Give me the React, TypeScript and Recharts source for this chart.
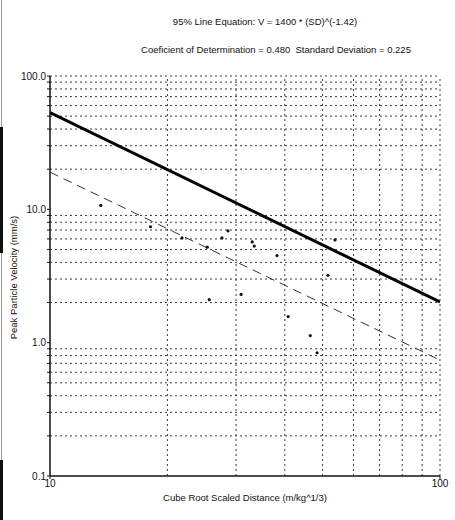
import {
  ScatterChart,
  Scatter,
  XAxis,
  YAxis,
  ReferenceLine,
} from "recharts";

// scaled distance (m/kg^1/3) and peak particle velocity (mm/s) of each blast record
const distances = [13.5, 18.1, 21.8, 25.3, 27.6, 28.6, 33.0, 33.4, 34.6, 38.2, 30.9, 25.6, 40.8, 51.6, 46.5, 48.4, 53.8];
const velocities = [10.7, 7.4, 6.1, 5.2, 6.1, 6.9, 5.7, 5.3, 9.1, 4.5, 2.3, 2.1, 1.57, 3.2, 1.13, 0.84, 5.9];

// 95% line and mean line, end points at SD = 10 and SD = 100
const lineSD = [10, 100];
const line95 = [53.2, 2.02];
const lineMean = [19.0, 0.74];

const xTicks = [10, 100];
const yTicks = [0.1, 1, 10, 100];
const xGrid = [20, 30, 40, 50, 60, 70, 80, 90, 100];
const yGrid = [0.2, 0.3, 0.4, 0.5, 0.6, 0.7, 0.8, 0.9, 2, 3, 4, 5, 6, 7, 8, 9, 20, 30, 40, 50, 60, 70, 80, 90, 100];
const yMinor = [0.2, 0.3, 0.4, 0.5, 0.6, 0.7, 0.8, 0.9, 2, 3, 4, 5, 6, 7, 8, 9, 20, 30, 40, 50, 60, 70, 80, 90];

const points = distances.map((x, i) => ({ x, y: velocities[i] }));
const fitLine = lineSD.map((x, i) => ({ x, y: line95[i] }));
const meanLine = lineSD.map((x, i) => ({ x, y: lineMean[i] }));

const font = '"Liberation Sans", Arial, sans-serif';
const gridStroke = "#3a3a3a";

function Dot(props: { cx?: number; cy?: number }) {
  if (props.cx == null || props.cy == null) return null;
  return <circle cx={props.cx} cy={props.cy} r={1.6} fill="#111" />;
}

function NoShape() {
  return <g />;
}

export default function App() {
  return (
    <div
      style={{
        position: "absolute",
        left: 0,
        top: 0,
        width: 455,
        height: 520,
        background: "#fff",
        fontFamily: font,
        color: "#111",
      }}
    >
      {/* scan edge */}
      <div style={{ position: "absolute", left: 1, top: 0, width: 1, height: 520, background: "#999" }} />
      <div style={{ position: "absolute", left: 0, top: 127, width: 3, height: 126, background: "#111" }} />
      <div style={{ position: "absolute", left: 0, top: 460, width: 3, height: 60, background: "#111" }} />

      <div
        style={{
          position: "absolute",
          left: 0,
          width: 530,
          top: 16,
          textAlign: "center",
          fontSize: 9.5,
        }}
      >
        95% Line Equation: V = 1400 * (SD)^(-1.42)
      </div>
      <div
        style={{
          position: "absolute",
          left: 0,
          width: 552,
          top: 44,
          textAlign: "center",
          fontSize: 9.5,
        }}
      >
        Coeficient of Determination = 0.480&nbsp;&nbsp;Standard Deviation = 0.225
      </div>
      <div
        style={{
          position: "absolute",
          left: 13 - 100,
          top: 278 - 6,
          width: 200,
          textAlign: "center",
          fontSize: 9.5,
          transform: "rotate(-90deg)",
        }}
      >
        Peak Particle Velocity (mm/s)
      </div>
      <div
        style={{
          position: "absolute",
          left: 0,
          width: 490,
          top: 492,
          textAlign: "center",
          fontSize: 9.5,
        }}
      >
        Cube Root Scaled Distance (m/kg^1/3)
      </div>

      <div style={{ position: "absolute", left: 0, top: 0 }}>
        <ScatterChart
          width={455}
          height={520}
          margin={{ top: 76, right: 15, bottom: 24, left: 8 }}
        >
          {xGrid.map((v) => (
            <ReferenceLine
              key={`vx${v}`}
              x={v}
              stroke={gridStroke}
              strokeDasharray="2 3"
              strokeWidth={1}
            />
          ))}
          {yGrid.map((v) => (
            <ReferenceLine
              key={`hy${v}`}
              y={v}
              stroke={gridStroke}
              strokeDasharray="2 3"
              strokeWidth={1}
            />
          ))}
          <XAxis
            type="number"
            dataKey="x"
            scale="log"
            domain={[10, 100]}
            ticks={xTicks}
            interval={0}
            allowDataOverflow
            height={20}
            tickSize={3}
            tickMargin={1}
            tick={{ fontSize: 10, fill: "#111", fontFamily: font }}
            axisLine={{ stroke: "#111", strokeWidth: 1.5 }}
            tickLine={{ stroke: "#111" }}
          />
          <YAxis
            type="number"
            dataKey="y"
            scale="log"
            domain={[0.1, 100]}
            ticks={[...yTicks, ...yMinor]}
            interval={0}
            allowDataOverflow
            width={42}
            tickSize={3}
            tickMargin={1}
            tickFormatter={(v: number) => (yTicks.includes(v) ? v.toFixed(1) : "")}
            tick={{ fontSize: 10, fill: "#111", fontFamily: font }}
            axisLine={{ stroke: "#111", strokeWidth: 1.5 }}
            tickLine={{ stroke: "#111" }}
          />
          <Scatter
            data={meanLine}
            line={{ stroke: "#333", strokeWidth: 1, strokeDasharray: "9 6" }}
            shape={<NoShape />}
            isAnimationActive={false}
          />
          <Scatter
            data={fitLine}
            line={{ stroke: "#000", strokeWidth: 3 }}
            shape={<NoShape />}
            isAnimationActive={false}
          />
          <Scatter data={points} shape={<Dot />} isAnimationActive={false} />
        </ScatterChart>
      </div>
    </div>
  );
}
